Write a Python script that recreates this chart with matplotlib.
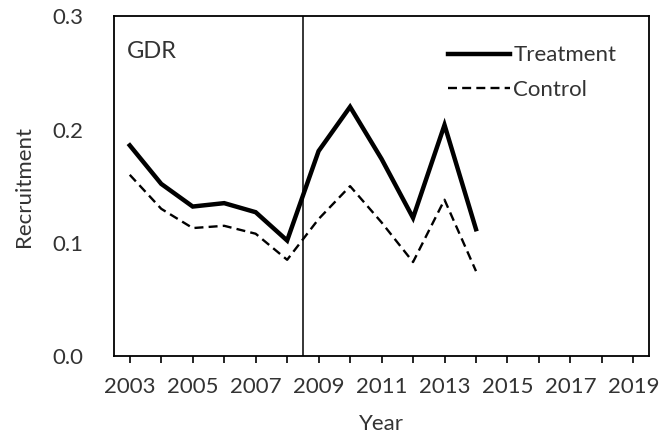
import matplotlib.pyplot as plt

years = [2003, 2004, 2005, 2006, 2007, 2008, 2009, 2010, 2011, 2012, 2013, 2014]
treatment = [0.186, 0.152, 0.132, 0.135, 0.127, 0.102, 0.181, 0.220, 0.174, 0.122, 0.204, 0.112]
control = [0.160, 0.130, 0.113, 0.115, 0.108, 0.085, 0.121, 0.150, 0.118, 0.083, 0.138, 0.075]
xtick_labels = [2003, 2005, 2007, 2009, 2011, 2013, 2015, 2017, 2019]
yticks = [0.0, 0.1, 0.2, 0.3]
break_year = 2008.5

plt.rcParams['font.family'] = ['Lato', 'DejaVu Sans']
txt = '#333333'

fig = plt.figure(figsize=(6.61, 4.38), dpi=100)
ax = fig.add_axes([0.1725, 0.187, 0.8095, 0.776])

ax.plot(years, treatment, color='black', lw=3.2, solid_joinstyle='miter', label='Treatment')
ax.plot(years, control, color='black', lw=1.7, linestyle=(0, (3.8, 2.2)), label='Control')
ax.axvline(break_year, color='black', lw=1.1)

ax.set_xlim(2002.5, 2019.5)
ax.set_ylim(0, 0.3)
ax.set_xticks(range(2003, 2020))
ax.set_xticklabels([str(y) if y in xtick_labels else '' for y in range(2003, 2020)])
ax.set_yticks(yticks)
ax.set_yticklabels(['%.1f' % v for v in yticks])
ax.tick_params(axis='x', direction='out', length=5, width=1.2, labelsize=16, colors='black', labelcolor=txt, pad=10)
ax.tick_params(axis='y', length=0, labelsize=16, labelcolor=txt, pad=22)
for s in ax.spines.values():
    s.set_linewidth(1.3)

ax.set_xlabel('Year', fontsize=16, color=txt, labelpad=12)
ax.set_ylabel('Recruitment', fontsize=16, color=txt, labelpad=13)
ax.text(0.024, 0.876, 'GDR', transform=ax.transAxes, fontsize=17, color=txt, va='baseline')

leg = ax.legend(loc='upper right', bbox_to_anchor=(0.955, 0.94), frameon=False,
                fontsize=16, handlelength=2.8, handletextpad=0.15, labelspacing=0.65,
                borderaxespad=0)
for t in leg.get_texts():
    t.set_color(txt)

fig.savefig('out.png', dpi=100)
